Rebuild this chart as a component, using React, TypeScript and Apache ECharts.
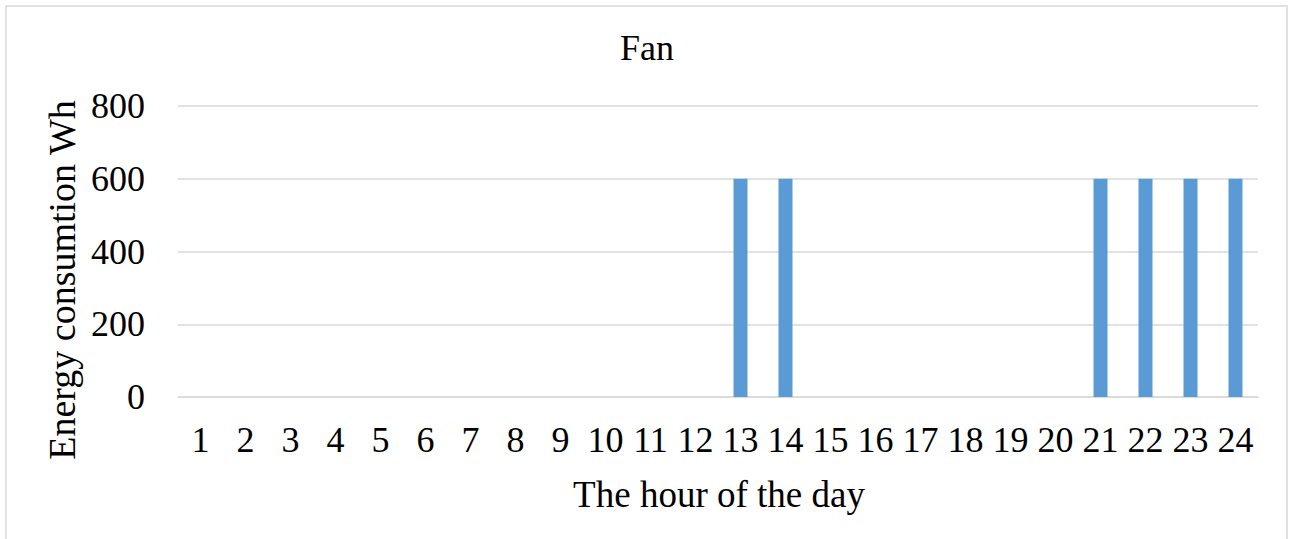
import React, { useEffect, useRef } from "react";
import * as echarts from "echarts";

const hours: string[] = [
  "1", "2", "3", "4", "5", "6", "7", "8", "9", "10", "11", "12",
  "13", "14", "15", "16", "17", "18", "19", "20", "21", "22", "23", "24",
];
const fanEnergyWh: number[] = [
  0, 0, 0, 0, 0, 0, 0, 0, 0, 0, 0, 0,
  600, 600, 0, 0, 0, 0, 0, 0, 600, 600, 600, 600,
];
const chartTitle = "Fan";
const xAxisTitle = "The hour of the day";
const yAxisTitle = "Energy consumtion Wh";

const FONT = "'Liberation Serif', 'Times New Roman', serif";

export default function App() {
  const ref = useRef<HTMLDivElement>(null);

  useEffect(() => {
    if (!ref.current) return;
    const chart = echarts.init(ref.current, undefined, { renderer: "svg" });
    chart.setOption({
      animation: false,
      backgroundColor: "#ffffff",
      grid: { left: 178, right: 36, top: 106, bottom: 142 },
      xAxis: {
        type: "category",
        data: hours,
        axisLine: { lineStyle: { color: "#d9d9d9", width: 1.5 } },
        axisTick: { show: false },
        axisLabel: {
          fontFamily: FONT,
          fontSize: 36,
          color: "#000",
          margin: 25,
          interval: 0,
        },
      },
      yAxis: {
        type: "value",
        min: 0,
        max: 800,
        interval: 200,
        axisLine: { show: false },
        axisTick: { show: false },
        splitLine: { lineStyle: { color: "#d9d9d9", width: 1.5 } },
        axisLabel: { fontFamily: FONT, fontSize: 36, color: "#000", margin: 33 },
      },
      series: [
        {
          type: "bar",
          data: fanEnergyWh,
          barWidth: 14,
          itemStyle: { color: "#5B9BD5" },
        },
      ],
      graphic: [
        {
          type: "rect",
          shape: { x: 6, y: 6, width: 1281, height: 545 },
          style: { fill: "none", stroke: "#d9d9d9", lineWidth: 1.5 },
          silent: true,
        },
        {
          type: "text",
          x: 647,
          y: 48,
          style: {
            text: chartTitle,
            fontFamily: FONT,
            fontSize: 36,
            fill: "#000",
            align: "center",
            verticalAlign: "middle",
          },
        },
        {
          type: "text",
          x: 719,
          y: 494,
          style: {
            text: xAxisTitle,
            fontFamily: FONT,
            fontSize: 37,
            fill: "#000",
            align: "center",
            verticalAlign: "middle",
          },
        },
        {
          type: "text",
          x: 62,
          y: 280,
          rotation: Math.PI / 2,
          style: {
            text: yAxisTitle,
            fontFamily: FONT,
            fontSize: 38,
            fill: "#000",
            align: "center",
            verticalAlign: "middle",
          },
        },
      ],
    });
    return () => chart.dispose();
  }, []);

  return (
    <div
      ref={ref}
      style={{ position: "absolute", left: 0, top: 0, width: 1294, height: 539 }}
    />
  );
}
